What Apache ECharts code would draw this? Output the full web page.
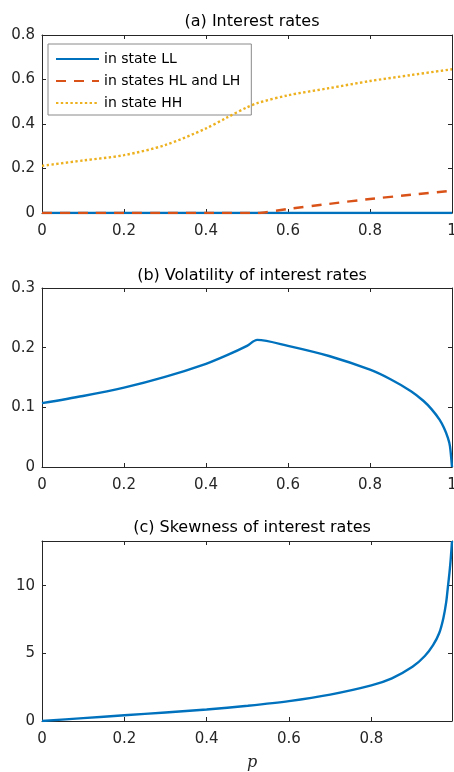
<!DOCTYPE html>
<html><head><meta charset="utf-8">
<script src="https://cdn.jsdelivr.net/npm/echarts@6/dist/echarts.min.js"></script>
<style>html,body{margin:0;padding:0;background:#fff}#c{width:454px;height:772px}</style>
</head><body><div id="c"></div>
<script>
// Panel (a): interest rates
const pA = [0, 0.1, 0.2, 0.3, 0.4, 0.45, 0.5, 0.525, 0.6, 0.7, 0.8, 0.9, 1.0];
const ratesLL = [0, 0, 0, 0, 0, 0, 0, 0, 0, 0, 0, 0, 0];
const ratesHL = [0, 0, 0, 0, 0, 0, 0, 0, 0.018, 0.041, 0.063, 0.082, 0.100];
const ratesHH = [0.212, 0.236, 0.260, 0.305, 0.380, 0.428, 0.475, 0.494, 0.529, 0.561, 0.593, 0.620, 0.646];
// Panel (b): volatility
const pB = [0, 0.1, 0.2, 0.3, 0.4, 0.45, 0.5, 0.525, 0.6, 0.7, 0.8, 0.85, 0.9, 0.93, 0.95, 0.97, 0.98, 0.99, 0.995, 1.0];
const vol = [0.107, 0.119, 0.133, 0.151, 0.173, 0.187, 0.203, 0.213, 0.203, 0.186, 0.163, 0.147, 0.127, 0.111, 0.097, 0.079, 0.066, 0.049, 0.035, 0];
// Panel (c): skewness
const pC = [0, 0.1, 0.2, 0.3, 0.4, 0.5, 0.6, 0.7, 0.8, 0.85, 0.9, 0.93, 0.95, 0.965, 0.975, 0.982, 0.986, 0.99, 0.993, 0.996];
const skew = [0, 0.21, 0.42, 0.63, 0.85, 1.13, 1.47, 1.95, 2.63, 3.15, 4.0, 4.8, 5.6, 6.5, 7.6, 8.8, 9.9, 11.0, 12.0, 13.3];
const titles = ['(a) Interest rates', '(b) Volatility of interest rates', '(c) Skewness of interest rates'];
const legendNames = ['in state LL', 'in states HL and LH', 'in state HH'];

const FONT = '"DejaVu Sans", "Liberation Sans", Arial, sans-serif';
const AX = '#262626';
const BLUE = '#0072BD', ORANGE = '#D95319', YELLOW = '#EDB120';
const pairs = (xs, ys) => xs.map((x, i) => [x, ys[i]]);

const grids = [
  {left: 42, top: 35, width: 410, height: 178, outerBoundsMode: 'none', containLabel: false},
  {left: 42, top: 288, width: 410, height: 179, outerBoundsMode: 'none', containLabel: false},
  {left: 42, top: 541, width: 410, height: 180, outerBoundsMode: 'none', containLabel: false}
];
const xMax = [1, 1, 0.996];
const yCfg = [{min: 0, max: 0.8, interval: 0.2}, {min: 0, max: 0.3, interval: 0.1}, {min: 0, max: 13.3, interval: 5}];

const xAxis = [], yAxis = [];
const fmt = (v, iv) => {
  const r = Math.round(v / iv);
  if (Math.abs(r * iv - v) > 1e-6) return '';
  return String(+(r * iv).toFixed(3));
};
const line = {show: true, onZero: false, lineStyle: {color: AX, width: 1}};
const tick = {show: true, inside: true, length: 4, lineStyle: {color: AX}};
grids.forEach((g, i) => {
  const xi = 0.2;
  xAxis.push({type: 'value', gridIndex: i, min: 0, max: xMax[i], interval: xi, position: 'bottom',
    axisLine: line, axisTick: tick,
    axisLabel: {color: AX, fontSize: 15, fontFamily: FONT, margin: 11, showMaxLabel: i < 2,
      hideOverlap: false, formatter: v => fmt(v, xi)},
    splitLine: {show: false}});
  xAxis.push({type: 'value', gridIndex: i, min: 0, max: xMax[i], interval: xi, position: 'top',
    axisLine: line, axisTick: tick, axisLabel: {show: false}, splitLine: {show: false}});
  const yc = yCfg[i];
  yAxis.push({type: 'value', gridIndex: i, min: yc.min, max: yc.max, interval: yc.interval, position: 'left',
    axisLine: line, axisTick: tick,
    axisLabel: {color: AX, fontSize: 15, fontFamily: FONT, margin: 7, showMaxLabel: i < 2,
      formatter: v => fmt(v, yc.interval)},
    splitLine: {show: false}});
  yAxis.push({type: 'value', gridIndex: i, min: yc.min, max: yc.max, interval: yc.interval, position: 'right',
    axisLine: line, axisTick: tick, axisLabel: {show: false}, splitLine: {show: false}});
});

const titleTops = [9, 263, 515];
const option = {
  animation: false,
  backgroundColor: '#fff',
  title: titles.map((t, i) => ({text: t, left: 247, top: titleTops[i], textAlign: 'center',
    textStyle: {fontFamily: FONT, fontSize: 16, fontWeight: 'normal', color: '#000'}})).concat([
    {text: 'p', left: 247, top: 750, textAlign: 'center',
     textStyle: {fontFamily: '"DejaVu Serif", "Liberation Serif", serif', fontStyle: 'italic', fontSize: 16, fontWeight: 'normal', color: AX}}
  ]),
  grid: grids,
  xAxis: xAxis,
  yAxis: yAxis,
  legend: {
    data: legendNames, orient: 'vertical', left: 48, top: 44,
    backgroundColor: '#fff', borderColor: '#8a8a8a', borderWidth: 1,
    padding: [8, 11, 5, 7], itemGap: 8, itemWidth: 43, itemHeight: 14,
    itemStyle: {opacity: 0},
    textStyle: {fontFamily: FONT, fontSize: 14, color: '#000'}
  },
  series: [
    {name: legendNames[0], type: 'line', xAxisIndex: 0, yAxisIndex: 0, data: pairs(pA, ratesLL), symbol: 'none',
     lineStyle: {color: BLUE, width: 2.4}, itemStyle: {color: BLUE}, z: 3},
    {name: legendNames[1], type: 'line', xAxisIndex: 0, yAxisIndex: 0, data: pairs(pA, ratesHL), symbol: 'none', smooth: 0.2,
     lineStyle: {color: ORANGE, width: 2.4, type: [10, 8]}, itemStyle: {color: ORANGE}, z: 4},
    {name: legendNames[2], type: 'line', xAxisIndex: 0, yAxisIndex: 0, data: pairs(pA, ratesHH), symbol: 'none', smooth: 0.3,
     lineStyle: {color: YELLOW, width: 2.4, type: [2.4, 2.4]}, itemStyle: {color: YELLOW}, z: 4},
    {type: 'line', xAxisIndex: 2, yAxisIndex: 2, data: pairs(pB, vol), symbol: 'none', smooth: 0.3,
     lineStyle: {color: BLUE, width: 2.4}},
    {type: 'line', xAxisIndex: 4, yAxisIndex: 4, data: pairs(pC, skew), symbol: 'none', smooth: 0.3,
     lineStyle: {color: BLUE, width: 2.4}}
  ]
};
echarts.init(document.getElementById('c'), null, {renderer: 'canvas'}).setOption(option);
</script></body></html>
